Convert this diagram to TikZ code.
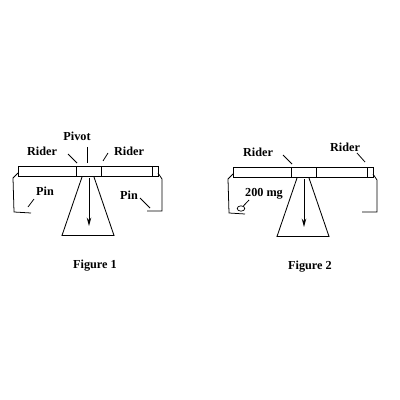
\documentclass[tikz,border=0pt]{standalone}
\usepackage{fontspec}
\setmainfont{Liberation Serif}
\usetikzlibrary{arrows.meta,shapes.geometric}
\tikzset{lbl/.style={inner sep=0pt,font=\fontsize{8.7pt}{10pt}\selectfont\bfseries},
part/.style={draw,line width=0.6pt},
lead/.style={draw,line width=0.55pt}}
\begin{document}
\begin{tikzpicture}[x=0.025cm,y=-0.025cm]
\useasboundingbox (0,0) rectangle (400,400);
%left balance
\draw[part] (18.5,166.5) rectangle (158.5,176.5);
\draw[part] (76.5,166.5) to (76.5,176.5);
\draw[part] (101.5,166.5) to (101.5,176.5);
\draw[part] (152.5,166.5) to (152.5,176.5);
\draw[part] (82,177) to (62,235.5) to (114,235.5) to (94,177);
\draw[part,-{Stealth[length=6pt,width=3.2pt]}] (89,178) to (89,226);
\draw[lead] (18,173) to (13,178) to (14,212) to (31,213);
\draw[lead] (158,173) to (162,179) to (162,211) to (147,211);
\node[lbl] (pivot) at (77,136) {Pivot};
\node[lbl] (riderl) at (42,151) {Rider};
\node[lbl] (riderr) at (129,151) {Rider};
\node[lbl] (pinl) at (45,191) {Pin};
\node[lbl] (pinr) at (129,195) {Pin};
\node[lbl] (figa) at (95,265.5) {Figure 1};
\coordinate (a1) at (68,154);\coordinate (a2) at (77,163);
\coordinate (b1) at (87.5,147);\coordinate (b2) at (87.5,163);
\coordinate (c1) at (108,153);\coordinate (c2) at (103,161);
\coordinate (d1) at (34,199);\coordinate (d2) at (28,207);
\coordinate (e1) at (140,198);\coordinate (e2) at (150,208);
\draw[lead] (a1) to (a2);
\draw[lead] (b1) to (b2);
\draw[lead] (c1) to (c2);
\draw[lead] (d1) to (d2);
\draw[lead] (e1) to (e2);
%right balance
\draw[part] (233.5,167.5) rectangle (373.5,177.5);
\draw[part] (291.5,167.5) to (291.5,177.5);
\draw[part] (316.5,167.5) to (316.5,177.5);
\draw[part] (367.5,167.5) to (367.5,177.5);
\draw[part] (297,178) to (277,236.5) to (329,236.5) to (309,178);
\draw[part,-{Stealth[length=6pt,width=3.2pt]}] (304,179) to (304,227);
\draw[lead] (233,174) to (228,179) to (229,213) to (245,214);
\draw[lead] (373,174) to (377,180) to (377,212) to (362,212);
\node[lbl] (riderm) at (258,152) {Rider};
\node[lbl] (ridern) at (345,147) {Rider};
\node[lbl] (mass) at (264,194) {200 mg};
\node[lbl] (figb) at (310,266.5) {Figure 2};
\node[draw,ellipse,line width=0.5pt,minimum width=5.4pt,minimum height=3.8pt,inner sep=0pt] (weight) at (241,208.5) {};
\coordinate (f1) at (283,155);\coordinate (f2) at (292,164);
\coordinate (g1) at (357,153);\coordinate (g2) at (365,162);
\coordinate (h1) at (249,200);
\draw[lead] (f1) to (f2);
\draw[lead] (g1) to (g2);
\draw[lead] (h1) to (weight);
\end{tikzpicture}
\end{document}
